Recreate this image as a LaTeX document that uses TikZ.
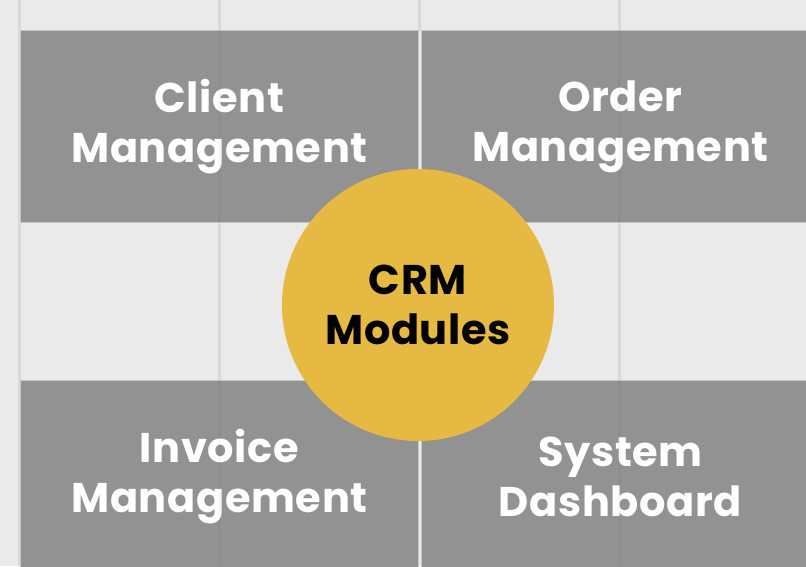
\documentclass[tikz,border=0pt]{standalone}
\usepackage{fontspec}
\setmainfont{Poppins}[LetterSpace=1.5]
\definecolor{fondo}{HTML}{EAEAEA}
\definecolor{rejilla}{HTML}{D9D9D9}
\definecolor{caja}{HTML}{929292}
\definecolor{borde}{HTML}{C6C6C6}
\definecolor{nucleo}{HTML}{E6B942}
\tikzset{
	modulo/.style={rectangle, fill=caja, draw=borde, line width=1pt, anchor=north west,
		minimum width=398pt, minimum height=192pt, inner sep=0pt,
		text=white, align=center, font=\fontsize{41.5}{50}\selectfont\bfseries},
	centro/.style={circle, fill=nucleo, minimum size=272pt, inner sep=0pt,
		text=black, align=center, font=\fontsize{41.5}{50}\selectfont\bfseries}
}
\begin{document}
\begin{tikzpicture}[x=1pt, y=-1pt]
	\useasboundingbox (0,0) rectangle (806,566);
	\clip (0,0) rectangle (806,566);
	% Fondo y rejilla
		\fill[fondo] (0,0) rectangle (806,566);
		\foreach \x in {20,220,420,620}
			\draw[rejilla, line width=3pt] (\x-1,0) -- (\x-1,566);

	% Modulos
		\node[modulo] (cliente) at (20,30) {Client\\Management};
		\node[modulo] (pedidos) at (421,30) {Order\\Management};
		\node[modulo] (facturas) at (20,380) {Invoice\\Management};
		\node[modulo] (panel) at (421,380) {System\\Dashboard};

	% Rejilla sobre las cajas
		\foreach \x in {220,620} {
			\draw[black, opacity=0.03, line width=3pt] (\x-1,30) -- (\x-1,222);
			\draw[black, opacity=0.03, line width=3pt] (\x-1,380) -- (\x-1,566);
		}
		\fill[fondo] (418.5,31) rectangle (420.5,222);
		\fill[fondo] (418.5,381) rectangle (420.5,566);

	% Circulo central
		\node[centro] (crm) at (418,305) {CRM\\Modules};
\end{tikzpicture}
\end{document}
